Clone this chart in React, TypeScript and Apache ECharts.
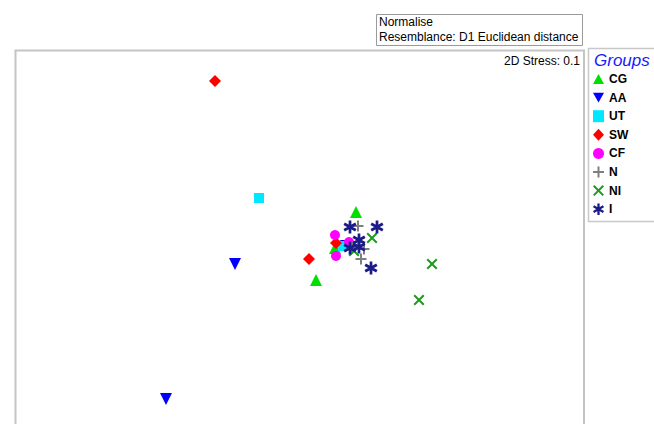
import React, { useEffect, useRef } from "react";
import * as echarts from "echarts";

// nMDS ordination coordinates per group (dimension 1, dimension 2)
const groups = ["CG", "AA", "UT", "SW", "CF", "N", "NI", "I"];

const cgPoints = [[0.06, 0.38], [-0.34, -0.3], [-0.15, 0.02]];
const aaPoints = [[-1.15, -0.14], [-1.84, -1.49], [-0.04, 0.04]];
const utPoints = [[-0.91, 0.52], [-0.07, 0.04]];
const swPoints = [[-1.35, 1.69], [-0.41, -0.09], [-0.14, 0.07]];
const cfPoints = [[-0.15, 0.15], [-0.14, -0.06], [-0.01, 0.08]];
const nPoints = [[0.08, 0.24], [0.14, 0.01], [0.11, -0.09], [0.02, 0.03]];
const niPoints = [[0.22, 0.12], [0.82, -0.14], [0.69, -0.5], [0.04, -0.01]];
const iPoints = [[0.0, 0.23], [0.27, 0.23], [0.09, 0.1], [0.0, 0.02], [0.09, 0.03], [0.21, -0.18]];

const stressLabel = "2D Stress: 0.1";
const headerLines = ["Normalise", "Resemblance: D1 Euclidean distance"];

// Thick-bar glyphs (plus, cross, asterisk) as filled outlines
function barsPath(angles: number[], len = 10, w = 2.2): string {
  const c = 5;
  return (
    "path://" +
    angles
      .map((a) => {
        const r = (a * Math.PI) / 180;
        const dx = Math.cos(r), dy = Math.sin(r);
        const px = -dy, py = dx;
        const h = len / 2, t = w / 2;
        const pts = [
          [c + dx * h + px * t, c + dy * h + py * t],
          [c - dx * h + px * t, c - dy * h + py * t],
          [c - dx * h - px * t, c - dy * h - py * t],
          [c + dx * h - px * t, c + dy * h - py * t],
        ];
        return (
          "M" +
          pts.map((p) => p[0].toFixed(2) + " " + p[1].toFixed(2)).join(" L") +
          " Z"
        );
      })
      .join(" ")
  );
}

const downTriangle = "path://M0 0 L10 0 L5 9 Z";
const upTriangle = "path://M5 0 L10 9 L0 9 Z";
const plusPath = barsPath([0, 90], 10, 1.8);
const crossPath = barsPath([45, 135], 12, 1.8);
const starPath = barsPath([90, 30, 150], 10, 2);

const FONT = "'Liberation Sans', Arial, sans-serif";

const seriesDefs = [
  { name: "CG", data: cgPoints, symbol: upTriangle, size: 12, color: "#00e000" },
  { name: "AA", data: aaPoints, symbol: downTriangle, size: 12, color: "#0000ff" },
  { name: "UT", data: utPoints, symbol: "rect", size: 10, color: "#00e8ff" },
  { name: "SW", data: swPoints, symbol: "diamond", size: 12, color: "#ff0000" },
  { name: "CF", data: cfPoints, symbol: "circle", size: 10, color: "#ff00ff" },
  { name: "N", data: nPoints, symbol: plusPath, size: 11, color: "#7f7f7f" },
  { name: "NI", data: niPoints, symbol: crossPath, size: 11, color: "#1e9a1e" },
  { name: "I", data: iPoints, symbol: starPath, size: 13, color: "#1a1a88" },
];

export default function App() {
  const ref = useRef<HTMLDivElement>(null);

  useEffect(() => {
    document.body.style.margin = "0";
    if (!ref.current) return;
    const chart = echarts.init(ref.current, undefined, { renderer: "svg" });
    chart.setOption({
      animation: false,
      backgroundColor: "#ffffff",
      grid: { left: 15, top: 50, right: 70, bottom: 0, show: false },
      xAxis: { type: "value", min: -3.35, max: 2.34, show: false },
      yAxis: { type: "value", min: -1.74, max: 2.0, show: false },
      legend: {
        orient: "vertical",
        left: 593,
        top: 73,
        itemWidth: 11,
        itemHeight: 12,
        itemGap: 6.6,
        padding: 0,
        data: groups,
        textStyle: {
          fontFamily: FONT,
          fontSize: 12,
          fontWeight: "bold",
          color: "#000",
          lineHeight: 12,
        },
      },
      graphic: [
        // plot frame (left, top, right edges)
        {
          type: "polyline",
          shape: { points: [[15.5, 424], [15.5, 50.5], [584, 50.5], [584, 424]] },
          style: { stroke: "#c4c4c4", lineWidth: 2, fill: null },
          silent: true,
        },
        // legend box
        {
          type: "rect",
          shape: { x: 588.5, y: 48.5, width: 80, height: 173 },
          style: { stroke: "#c8c8c8", lineWidth: 1.5, fill: "#ffffff" },
          z: -1,
          silent: true,
        },
        {
          type: "text",
          x: 594,
          y: 60,
          style: {
            text: "Groups",
            fontFamily: FONT,
            fontSize: 17,
            fontStyle: "italic",
            fill: "#1a1aff",
            verticalAlign: "middle",
          },
        },
        // resemblance header box
        {
          type: "rect",
          shape: { x: 376.5, y: 14.5, width: 206, height: 31 },
          style: { stroke: "#9a9a9a", lineWidth: 1, fill: "#ffffff" },
          silent: true,
        },
        {
          type: "text",
          x: 379,
          y: 22,
          style: {
            text: headerLines[0],
            fontFamily: FONT,
            fontSize: 12,
            fill: "#000",
            verticalAlign: "middle",
          },
        },
        {
          type: "text",
          x: 379,
          y: 37,
          style: {
            text: headerLines[1],
            fontFamily: FONT,
            fontSize: 12,
            fill: "#000",
            verticalAlign: "middle",
          },
        },
        {
          type: "text",
          x: 580,
          y: 61,
          style: {
            text: stressLabel,
            fontFamily: FONT,
            fontSize: 12,
            fill: "#000",
            align: "right",
            verticalAlign: "middle",
          },
        },
      ],
      series: seriesDefs.map((s) => ({
        name: s.name,
        type: "scatter",
        data: s.data,
        symbol: s.symbol,
        symbolSize: s.size,
        itemStyle: { color: s.color, opacity: 1 },
        emphasis: { disabled: true },
      })),
    });
    return () => chart.dispose();
  }, []);

  return (
    <div
      ref={ref}
      style={{ position: "fixed", left: 0, top: 0, width: 654, height: 424 }}
    />
  );
}
